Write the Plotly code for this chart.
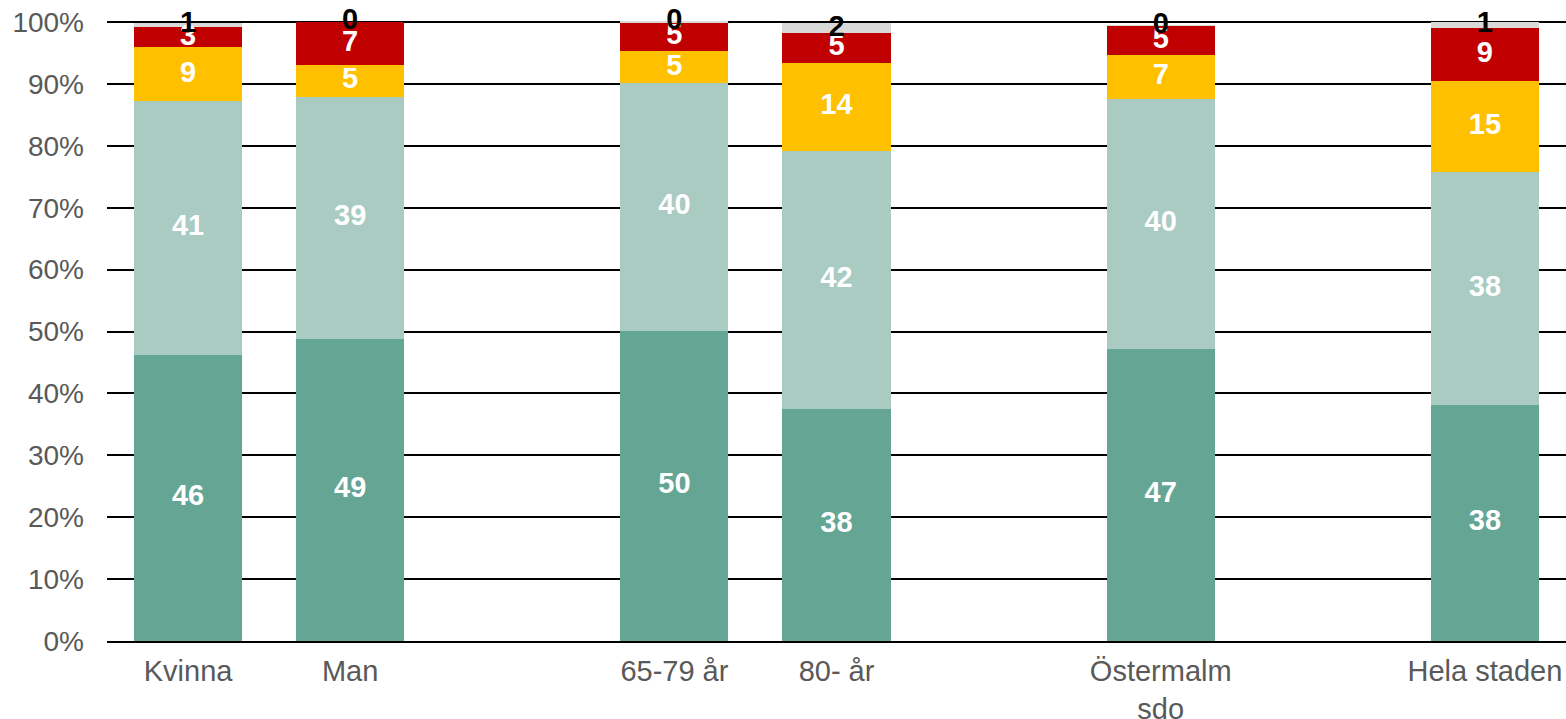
import plotly.graph_objects as go

categories = ["Kvinna", "Man", " ", "65-79 år", "80- år", "  ", "Östermalm<br>sdo", "   ", "Hela staden"]

series_names = ["Mycket bra", "Ganska bra", "Varken bra eller dåligt", "Dåligt", "Vet ej"]
dark_green = [46.2, 48.8, None, 50.1, 37.5, None, 47.2, None, 38.1]
light_green = [41.0, 39.1, None, 40.0, 41.7, None, 40.4, None, 37.6]
yellow = [8.7, 5.1, None, 5.2, 14.2, None, 7.1, None, 14.8]
red = [3.3, 7.0, None, 4.6, 4.8, None, 4.7, None, 8.6]
gray = [0.6, 0.0, None, 0.2, 1.6, None, 0.1, None, 0.9]

tick_values = list(range(0, 101, 10))
tick_labels = [f"{v}%" for v in tick_values]

colors = ["#65A594", "#A9CBC2", "#FFC000", "#C00000", "#D9D9D9"]
label_colors = ["white", "white", "white", "white", "black"]
all_series = [dark_green, light_green, yellow, red, gray]

fig = go.Figure()
for name, vals, col in zip(series_names, all_series, colors):
    fig.add_trace(go.Bar(x=categories, y=vals, name=name, marker_color=col,
                         marker_line_width=0, hoverinfo="skip"))

# labels at segment centres
cum = [0.0] * len(categories)
for vals, lc in zip(all_series, label_colors):
    ys, txt = [], []
    for i, v in enumerate(vals):
        if v is None:
            ys.append(None)
            txt.append("")
        else:
            ys.append(cum[i] + v / 2)
            txt.append(f"{round(v):d}")
            cum[i] += v
    fig.add_trace(go.Scatter(x=categories, y=ys, mode="text", text=txt, cliponaxis=False,
                             textfont=dict(family="Liberation Sans, Arial", size=29, color=lc, weight="bold"),
                             hoverinfo="skip", showlegend=False))

fig.update_layout(
    barmode="stack",
    bargap=0.333,
    width=1566, height=719,
    margin=dict(l=107, r=0, t=19, b=78, autoexpand=False),
    plot_bgcolor="white", paper_bgcolor="white",
    showlegend=False,
    font=dict(family="Liberation Sans, Arial", size=29, color="#595959"),
)
fig.update_yaxes(range=[0, 100.5], tickvals=tick_values, ticktext=tick_labels, automargin=False,
                 showgrid=True, gridcolor="black", gridwidth=1.5, zeroline=False,
                 ticklabeloverflow="allow",
                 ticklabelstandoff=22, tickfont=dict(size=28, color="#595959"))
fig.update_xaxes(type="category", showline=True, linecolor="black", linewidth=2, automargin=False,
                 ticklabeloverflow="allow",
                 tickfont=dict(size=29, color="#595959"), ticklabelstandoff=3)

fig.write_html("out.html", config={"displayModeBar": False},
               post_script="document.body.style.margin='0';document.body.style.overflow='hidden';")
